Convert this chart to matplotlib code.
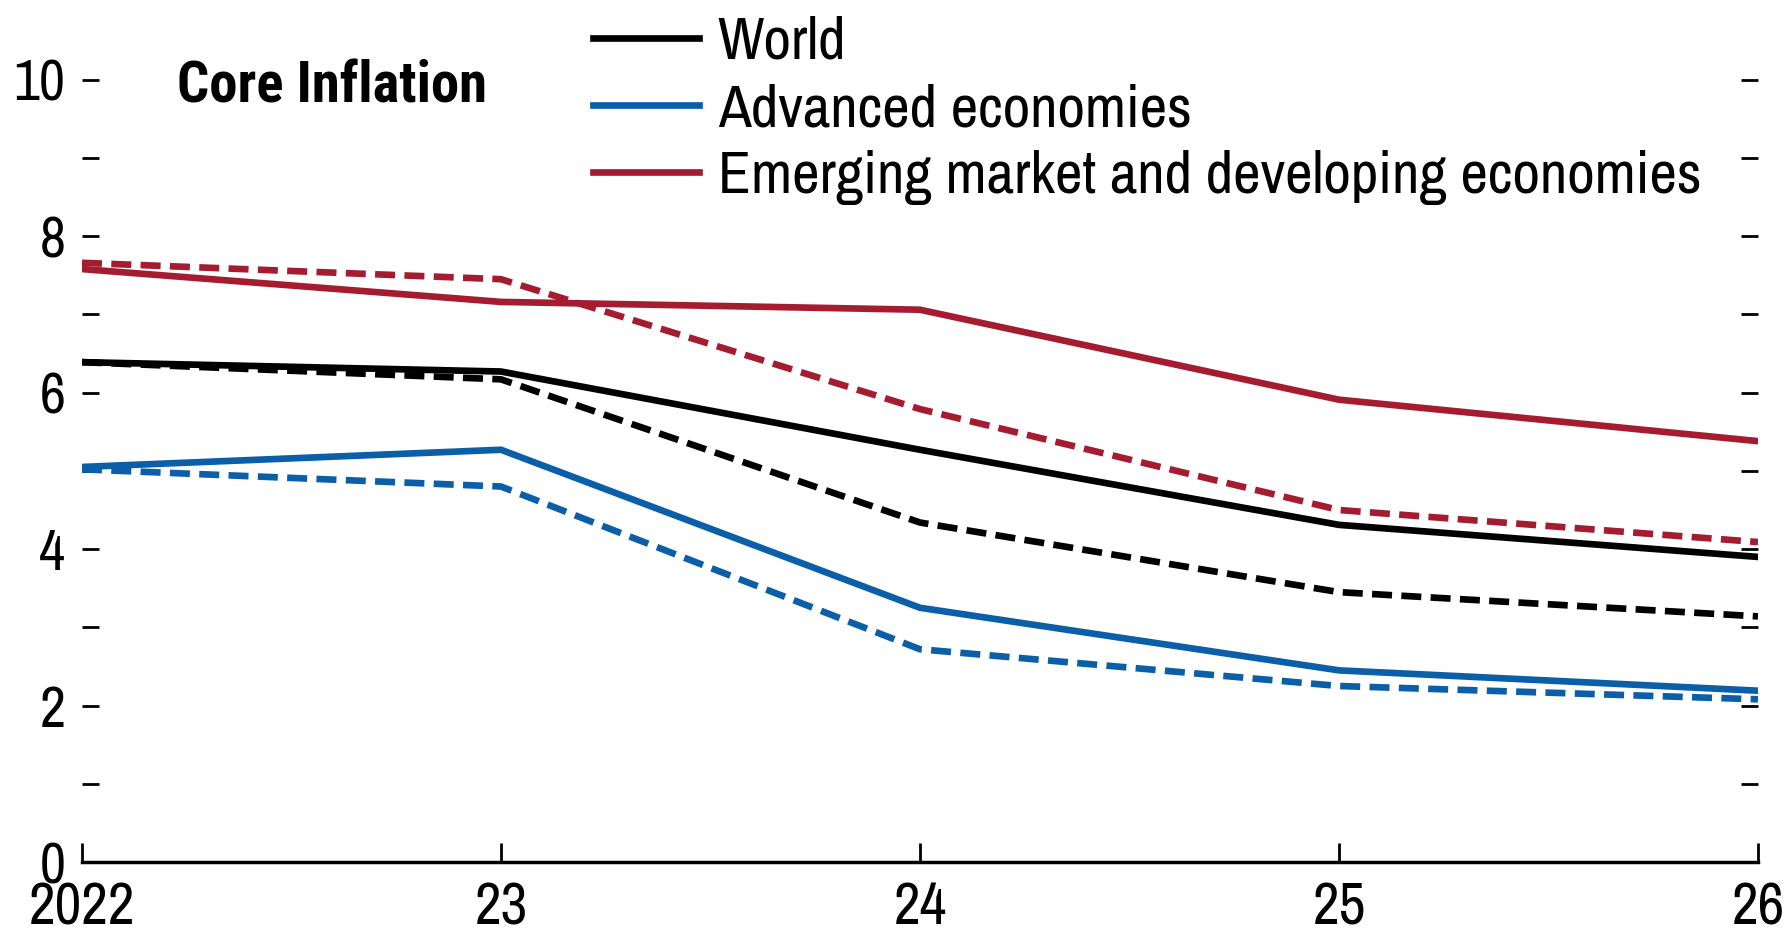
import matplotlib
matplotlib.use("Agg")
import matplotlib.pyplot as plt
import matplotlib.ticker as mticker
from matplotlib.lines import Line2D

plt.rcParams['font.family'] = ['Archivo Narrow', 'Liberation Sans Narrow', 'DejaVu Sans']

# --- Data ---
years = [2022, 2023, 2024, 2025, 2026]
year_labels = ['2022', '23', '24', '25', '26']

world = [6.39, 6.27, 5.27, 4.31, 3.90]
world_prev = [6.39, 6.17, 4.34, 3.45, 3.14]
advanced = [5.05, 5.27, 3.25, 2.45, 2.19]
advanced_prev = [5.02, 4.80, 2.72, 2.25, 2.08]
emde = [7.58, 7.16, 7.06, 5.91, 5.38]
emde_prev = [7.66, 7.45, 5.79, 4.50, 4.09]

series_names = ['World', 'Advanced economies',
                'Emerging market and developing economies']
colors = ['#000000', '#0b5ea8', '#a51c30']

# --- Plotting ---
fig = plt.figure(figsize=(17.9, 9.38), dpi=100)
ax = fig.add_axes([0.0458, 0.081, 0.9363, 0.834])

lw = 4.8
for solid, dashed, c in zip([world, advanced, emde],
                            [world_prev, advanced_prev, emde_prev], colors):
    ax.plot(years, dashed, color=c, lw=lw, dashes=(3.0, 1.4), solid_capstyle='butt')
    ax.plot(years, solid, color=c, lw=lw)

ax.set_xlim(2022, 2026)
ax.set_ylim(0, 10)

for s in ['left', 'top', 'right']:
    ax.spines[s].set_visible(False)
ax.spines['bottom'].set_linewidth(2.5)

ax.set_xticks(years)
ax.set_xticklabels(year_labels)
ax.yaxis.set_major_locator(mticker.MultipleLocator(2))
ax.yaxis.set_minor_locator(mticker.MultipleLocator(1))

ax.tick_params(axis='x', direction='in', length=14, width=2.0, labelsize=42, pad=14)
ax.tick_params(axis='y', which='both', direction='in', length=12, width=2.0,
               right=True, labelsize=41, pad=12)

ax.text(2022.227, 9.71, 'Core Inflation', fontsize=40.8, fontweight='bold',
        family=['Roboto Condensed', 'Archivo Narrow', 'DejaVu Sans'],
        va='baseline', ha='left')

handles = [Line2D([0], [0], color=c, lw=lw) for c in colors]
fig.legend(handles, series_names, loc='upper left', bbox_to_anchor=(0.318, 1.009),
           frameon=False, fontsize=43.3, handlelength=1.75, handletextpad=0.32,
           labelspacing=0.24, borderaxespad=0.0)

fig.savefig('out.png', dpi=100)
